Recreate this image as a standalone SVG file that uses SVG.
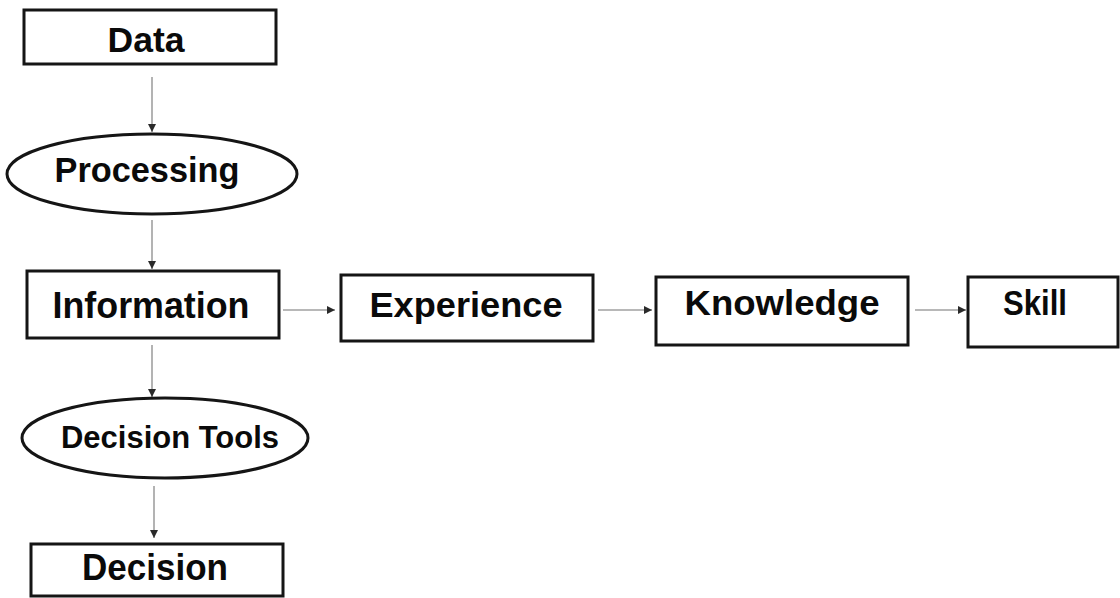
<svg xmlns="http://www.w3.org/2000/svg" width="1120" height="598" viewBox="0 0 1120 598">
  <style>
    .box { fill: #ffffff; stroke: #151515; stroke-width: 3; }
    .label { font-family: "Liberation Sans", Arial, sans-serif; font-weight: bold; fill: #0a0a0a; }
    .edge { stroke: #a0a0a0; stroke-width: 1.6; fill: none; marker-end: url(#head); }
  </style>
  <defs>
    <marker id="head" markerUnits="userSpaceOnUse" markerWidth="10" markerHeight="10" refX="8" refY="4" orient="auto">
      <path d="M0,0 L8,4 L0,8 Z" fill="#2a2a2a"/>
    </marker>
  </defs>
  <rect width="1120" height="598" fill="#ffffff"/>

  <g id="connectors">
    <line class="edge" x1="152" y1="77" x2="152" y2="132"/>
    <line class="edge" x1="152" y1="220" x2="152" y2="269"/>
    <line class="edge" x1="152" y1="345" x2="152" y2="397"/>
    <line class="edge" x1="154" y1="486" x2="154" y2="538"/>
    <line class="edge" x1="283" y1="310" x2="335" y2="310"/>
    <line class="edge" x1="598" y1="310" x2="652" y2="310"/>
    <line class="edge" x1="915" y1="310" x2="966" y2="310"/>
  </g>

  <g id="data">
    <rect class="box" x="24" y="10" width="252" height="54"/>
    <text class="label" x="146" y="52" font-size="35" text-anchor="middle" textLength="77" lengthAdjust="spacingAndGlyphs">Data</text>
  </g>

  <g id="processing">
    <ellipse class="box" cx="152" cy="174" rx="145" ry="40"/>
    <text class="label" x="147" y="182" font-size="35" text-anchor="middle" textLength="185" lengthAdjust="spacingAndGlyphs">Processing</text>
  </g>

  <g id="information">
    <rect class="box" x="27" y="271" width="252" height="67"/>
    <text class="label" x="151" y="318" font-size="37" text-anchor="middle" textLength="197" lengthAdjust="spacingAndGlyphs">Information</text>
  </g>

  <g id="experience">
    <rect class="box" x="341" y="275" width="252" height="66"/>
    <text class="label" x="466" y="317" font-size="35" text-anchor="middle" textLength="193" lengthAdjust="spacingAndGlyphs">Experience</text>
  </g>

  <g id="knowledge">
    <rect class="box" x="656" y="277" width="252" height="68"/>
    <text class="label" x="782" y="315" font-size="35" text-anchor="middle" textLength="195" lengthAdjust="spacingAndGlyphs">Knowledge</text>
  </g>

  <g id="skill">
    <rect class="box" x="968" y="277" width="150" height="70"/>
    <text class="label" x="1035" y="315" font-size="35" text-anchor="middle" textLength="64" lengthAdjust="spacingAndGlyphs">Skill</text>
  </g>

  <g id="decision-tools">
    <ellipse class="box" cx="165" cy="438" rx="143" ry="40"/>
    <text class="label" x="170" y="448" font-size="32" text-anchor="middle" textLength="218" lengthAdjust="spacingAndGlyphs">Decision Tools</text>
  </g>

  <g id="decision">
    <rect class="box" x="31" y="544" width="252" height="52"/>
    <text class="label" x="155" y="580" font-size="36" text-anchor="middle" textLength="146" lengthAdjust="spacingAndGlyphs">Decision</text>
  </g>
</svg>
